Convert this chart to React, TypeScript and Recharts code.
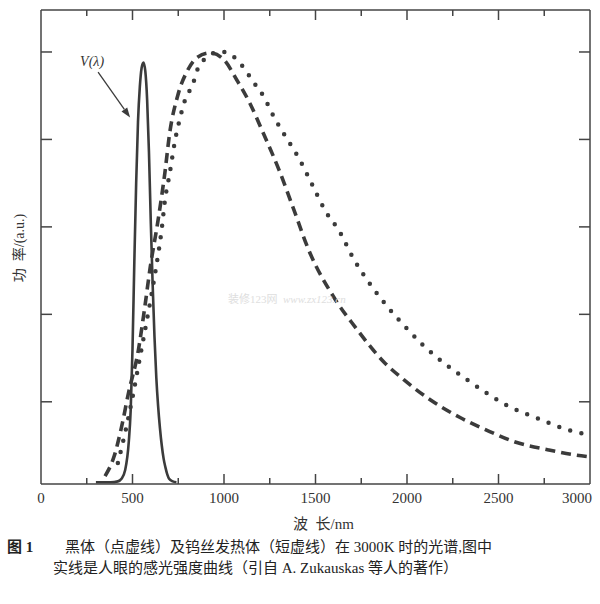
import React from 'react';
import { LineChart, Line, XAxis, YAxis, ReferenceLine } from 'recharts';

// wavelength (nm) / relative power (a.u.)
const eyeWl = [300, 380, 420, 440, 460, 480, 490, 500, 510, 520, 530, 540, 550, 560, 570, 580, 590, 600, 610, 620, 630, 640, 650, 660, 670, 680, 690, 700, 720, 740];
const eyeVal = [0.08, 0.08, 0.09, 0.12, 0.22, 0.55, 0.9, 1.6, 2.6, 3.5, 4.2, 4.6, 4.82, 4.88, 4.78, 4.45, 3.85, 3.05, 2.35, 1.75, 1.28, 0.95, 0.7, 0.5, 0.35, 0.25, 0.17, 0.12, 0.09, 0.08];

const wireWl = [350, 400, 440, 478, 532, 565, 597, 640, 677, 703, 747, 801, 855, 925, 1000, 1070, 1140, 1215, 1301, 1376, 1462, 1608, 1715, 1876, 1984, 2129, 2290, 2452, 2591, 2774, 2925, 3000];
const wireVal = [0.15, 0.38, 0.71, 1.1, 1.59, 2.05, 2.54, 3.08, 3.62, 4.07, 4.5, 4.79, 4.94, 4.99, 4.91, 4.68, 4.42, 4.07, 3.65, 3.23, 2.74, 2.17, 1.86, 1.45, 1.25, 1.02, 0.82, 0.66, 0.54, 0.45, 0.39, 0.37];

const bodyWl = [420, 460, 500, 540, 580, 610, 630, 645, 660, 677, 704, 731, 764, 790, 828, 855, 900, 950, 1000, 1050, 1100, 1163, 1217, 1272, 1337, 1408, 1478, 1549, 1636, 1704, 1790, 1892, 1989, 2086, 2210, 2323, 2457, 2554, 2715, 2876, 3000];
const bodyVal = [0.3, 0.65, 1.05, 1.5, 1.95, 2.3, 2.55, 2.75, 2.98, 3.3, 3.62, 3.97, 4.28, 4.47, 4.62, 4.8, 4.93, 4.99, 5.0, 4.95, 4.84, 4.65, 4.49, 4.26, 4.03, 3.79, 3.5, 3.2, 2.93, 2.65, 2.37, 2.09, 1.86, 1.65, 1.43, 1.26, 1.07, 0.95, 0.81, 0.68, 0.62];

const xTicks = [0, 250, 500, 750, 1000, 1250, 1500, 1750, 2000, 2250, 2500, 2750, 3000];
const yTicks = [1, 2, 3, 4, 5];

const eyeData = eyeWl.map((w, i) => ({ w, v: eyeVal[i] }));
const wireData = wireWl.map((w, i) => ({ w, v: wireVal[i] }));
const bodyData = bodyWl.map((w, i) => ({ w, v: bodyVal[i] }));

const ink = '#3b3b3b';
const axisInk = '#444';
const serif = '"Liberation Serif", "DejaVu Serif", serif';
const cjk = '"Liberation Serif", "Noto Sans CJK SC", serif';

function xTick(side: 'top' | 'bottom') {
  return (props: any) => {
    const { x, y, payload } = props;
    const val = payload.value;
    const major = val % 500 === 0;
    const len = major ? 10 : 6;
    const dir = side === 'bottom' ? -1 : 1;
    const edge = val === 0 || val === 3000;
    return (
      <g>
        {!edge && <line x1={x} x2={x} y1={y} y2={y + dir * len} stroke={axisInk} strokeWidth={1.5} />}
        {side === 'bottom' && major && (
          <text
            x={val === 3000 ? x + 2 : x}
            y={y + 19}
            textAnchor={val === 3000 ? 'end' : 'middle'}
            fontFamily={serif}
            fontSize={15}
            fill="#333"
          >
            {val}
          </text>
        )}
      </g>
    );
  };
}

function yTick(side: 'left' | 'right') {
  return (props: any) => {
    const { x, y } = props;
    const dir = side === 'left' ? 1 : -1;
    return <line x1={x} x2={x + dir * 11} y1={y} y2={y} stroke={axisInk} strokeWidth={1.5} />;
  };
}

// arrow pointing at the V(λ) curve
function ArrowShape(props: any) {
  const { x1, y1, x2, y2 } = props;
  const dx = x2 - x1;
  const dy = y2 - y1;
  const l = Math.sqrt(dx * dx + dy * dy) || 1;
  const ux = dx / l;
  const uy = dy / l;
  const hl = 10;
  const hw = 3.5;
  const bx = x2 - ux * hl;
  const by = y2 - uy * hl;
  const pts = `${x2},${y2} ${bx - uy * hw},${by + ux * hw} ${bx + uy * hw},${by - ux * hw}`;
  return (
    <g>
      <line x1={x1} y1={y1} x2={bx} y2={by} stroke={ink} strokeWidth={1.3} />
      <polygon points={pts} fill={ink} />
      <text x={x1 - 6} y={y1 - 6} textAnchor="middle" fontFamily={serif} fontStyle="italic" fontSize={14} fill="#333">
        V(λ)
      </text>
    </g>
  );
}

export default function App() {
  return (
    <div style={{ position: 'absolute', left: 0, top: 0, width: 600, height: 604, background: '#fff', overflow: 'hidden' }}>
      <LineChart width={600} height={604} margin={{ top: 9, right: 9, bottom: 119, left: 40 }}>
        <XAxis
          xAxisId="b"
          type="number"
          dataKey="w"
          domain={[0, 3000]}
          ticks={xTicks}
          interval={0}
          height={1}
          tickSize={0}
          tickMargin={0}
          tickLine={false}
          tick={xTick('bottom')}
          stroke={axisInk}
          strokeWidth={1.5}
          allowDataOverflow
        />
        <XAxis
          xAxisId="t"
          orientation="top"
          type="number"
          dataKey="w"
          domain={[0, 3000]}
          ticks={xTicks}
          interval={0}
          height={1}
          tickSize={0}
          tickMargin={0}
          tickLine={false}
          tick={xTick('top')}
          stroke={axisInk}
          strokeWidth={1.5}
          allowDataOverflow
        />
        <YAxis
          yAxisId="l"
          type="number"
          domain={[0.06, 5.48]}
          ticks={yTicks}
          width={1}
          tickSize={0}
          tickMargin={0}
          tickLine={false}
          tick={yTick('left')}
          stroke={axisInk}
          strokeWidth={1.5}
          allowDataOverflow
        />
        <YAxis
          yAxisId="r"
          orientation="right"
          type="number"
          domain={[0.06, 5.48]}
          ticks={yTicks}
          width={1}
          tickSize={0}
          tickMargin={0}
          tickLine={false}
          tick={yTick('right')}
          stroke={axisInk}
          strokeWidth={1.5}
          allowDataOverflow
        />
        <Line
          xAxisId="b"
          yAxisId="l"
          data={eyeData}
          dataKey="v"
          type="monotone"
          stroke={ink}
          strokeWidth={2.6}
          dot={false}
          activeDot={false}
          isAnimationActive={false}
        />
        <Line
          xAxisId="b"
          yAxisId="l"
          data={wireData}
          dataKey="v"
          type="monotone"
          stroke={ink}
          strokeWidth={3.6}
          strokeDasharray="10 6"
          dot={false}
          activeDot={false}
          isAnimationActive={false}
        />
        <Line
          xAxisId="t"
          yAxisId="r"
          data={bodyData}
          dataKey="v"
          type="monotone"
          stroke={ink}
          strokeWidth={4.5}
          strokeLinecap="round"
          strokeDasharray="0 11.5"
          dot={false}
          activeDot={false}
          isAnimationActive={false}
        />
        <ReferenceLine
          xAxisId="b"
          yAxisId="l"
          segment={[{ x: 312, y: 4.77 }, { x: 487, y: 4.25 }]}
          shape={ArrowShape}
          ifOverflow="visible"
        />
      </LineChart>

      {/* faint scan watermark */}
      <div style={{ position: 'absolute', left: 228, top: 290, fontFamily: cjk, fontSize: 11, color: '#dedede', whiteSpace: 'nowrap' }}>
        装修123网&nbsp;&nbsp;<span style={{ fontStyle: 'italic' }}>www.zx123.cn</span>
      </div>

      <div
        style={{
          position: 'absolute',
          left: 18,
          top: 248,
          transform: 'translate(-50%, -50%) rotate(-90deg)',
          fontFamily: cjk,
          fontSize: 14,
          color: '#333',
          whiteSpace: 'nowrap',
        }}
      >
        功&nbsp;&nbsp;率/(a.u.)
      </div>
      <div style={{ position: 'absolute', left: 293, top: 512, fontFamily: cjk, fontSize: 15, color: '#333', whiteSpace: 'nowrap' }}>
        波&nbsp;&nbsp;长/nm
      </div>

      <div style={{ position: 'absolute', left: 7, top: 537, lineHeight: '20px', fontFamily: cjk, fontSize: 15, fontWeight: 'bold', color: '#222', whiteSpace: 'nowrap' }}>
        图 1
      </div>
      <div style={{ position: 'absolute', left: 65, top: 537, lineHeight: '20px', fontFamily: cjk, fontSize: 15, color: '#222', whiteSpace: 'nowrap' }}>
        黑体（点虚线）及钨丝发热体（短虚线）在 3000K 时的光谱,图中
      </div>
      <div style={{ position: 'absolute', left: 53, top: 558, lineHeight: '20px', fontFamily: cjk, fontSize: 15, color: '#222', whiteSpace: 'nowrap' }}>
        实线是人眼的感光强度曲线（引自 A. Zukauskas 等人的著作）
      </div>
    </div>
  );
}
